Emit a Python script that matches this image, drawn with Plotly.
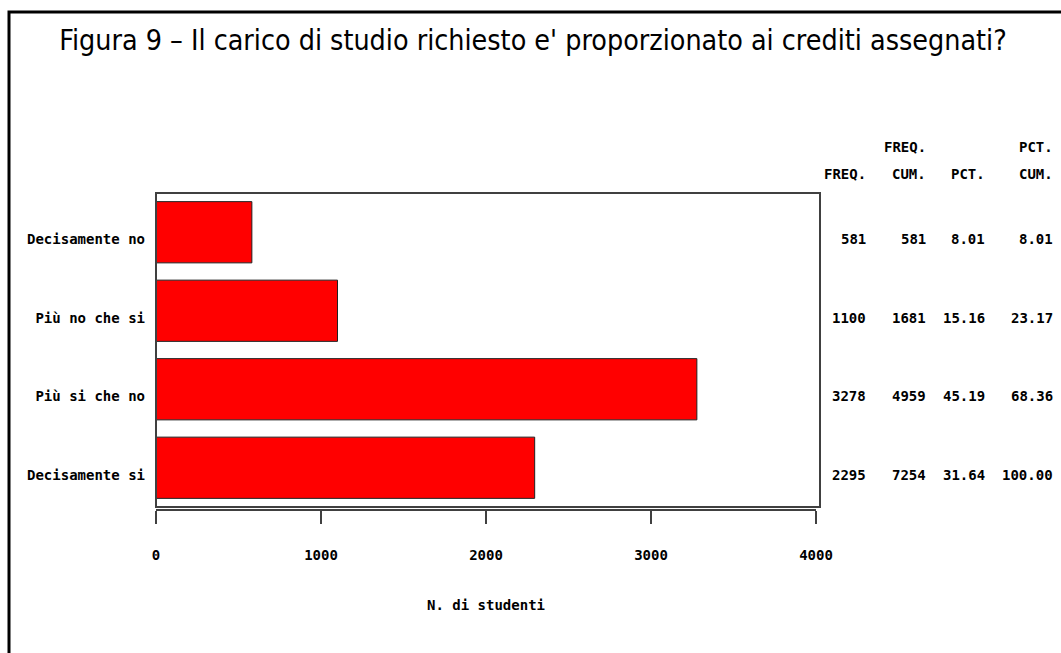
import plotly.graph_objects as go

categories = ["Decisamente no", "Più no che si", "Più si che no", "Decisamente si"]
freq = [581, 1100, 3278, 2295]
freq_cum = ["581", "1681", "4959", "7254"]
pct = ["8.01", "15.16", "45.19", "31.64"]
pct_cum = ["8.01", "23.17", "68.36", "100.00"]
x_ticks = [0, 1000, 2000, 3000, 4000]
title_text = "Figura 9 \u2013 Il carico di studio richiesto e' proporzionato ai crediti assegnati?"
x_title = "N. di studenti"

W, H = 1061, 653
L, R, T, B = 156, 245, 193, 143
PW = W - L - R
PH = H - T - B

def px_x(x):
    return (x - L) / PW

def px_y(y):
    return (H - B - y) / PH

MONO = "DejaVu Sans Mono, Liberation Mono, monospace"
mono_font = dict(family=MONO, size=14, color="black", weight="bold")

fig = go.Figure()
fig.add_trace(go.Bar(
    x=freq, y=categories, orientation="h",
    marker=dict(color="#FF0000", line=dict(color="#202020", width=1)),
    width=0.78, hoverinfo="x+y",
))

fig.update_layout(
    width=W, height=H,
    margin=dict(l=L, r=R, t=T, b=B, pad=0),
    paper_bgcolor="white", plot_bgcolor="white",
    showlegend=False,
    title=dict(text=title_text, x=533 / W, xanchor="center", y=1 - 40 / H, yanchor="middle",
               font=dict(family="DejaVu Sans Condensed, Liberation Sans Narrow, sans-serif",
                         size=28.4, color="black")),
    xaxis=dict(range=[0, 4000], anchor="free", position=0, showline=True, linecolor="#404040",
               linewidth=1.5, ticks="outside", ticklen=13, tickwidth=1.5, tickcolor="#404040",
               tickvals=x_ticks, ticktext=[str(v) for v in x_ticks], ticklabelstandoff=19,
               showgrid=False, zeroline=False,
               tickfont=mono_font,
               title=dict(text=x_title, font=mono_font, standoff=38)),
    yaxis=dict(type="category", categoryorder="array", categoryarray=categories,
               range=[3.5, -0.5], domain=[3 / PH, 1], showline=False, ticks="",
               showgrid=False, zeroline=False, ticklabelstandoff=10, ticklabelshift=-7,
               tickfont=mono_font),
)

# plot box
fig.add_shape(type="rect", xref="paper", yref="paper", x0=0, x1=px_x(820), y0=3 / PH, y1=1,
              line=dict(color="#404040", width=2), fillcolor="rgba(0,0,0,0)", layer="above")
# outer frame
fig.add_shape(type="path", xref="paper", yref="paper",
              path=f"M {px_x(1080)} {px_y(12)} L {px_x(9)} {px_y(12)} L {px_x(9)} {px_y(670)}",
              line=dict(color="black", width=3))

col_x = [868, 928, 987, 1055]
cols = [[str(v) for v in freq], freq_cum, pct, pct_cum]
for cx, vals in zip(col_x, cols):
    for cat, v in zip(categories, vals):
        fig.add_annotation(x=px_x(cx), xref="paper", y=cat, yref="y", text=v, showarrow=False,
                           xanchor="right", yanchor="middle", yshift=-7, font=mono_font)

hdr1 = ["", "FREQ.", "", "PCT."]
hdr2 = ["FREQ.", "CUM.", "PCT.", "CUM."]
for cx, h1, h2 in zip(col_x, hdr1, hdr2):
    if h1:
        fig.add_annotation(x=px_x(cx), xref="paper", y=px_y(147), yref="paper", text=h1, showarrow=False,
                           xanchor="right", yanchor="middle", font=mono_font)
    fig.add_annotation(x=px_x(cx), xref="paper", y=px_y(174), yref="paper", text=h2, showarrow=False,
                       xanchor="right", yanchor="middle", font=mono_font)

fig.write_html("out.html", config={"displayModeBar": False},
               post_script="document.body.style.margin='0';document.body.style.overflow='hidden';")
